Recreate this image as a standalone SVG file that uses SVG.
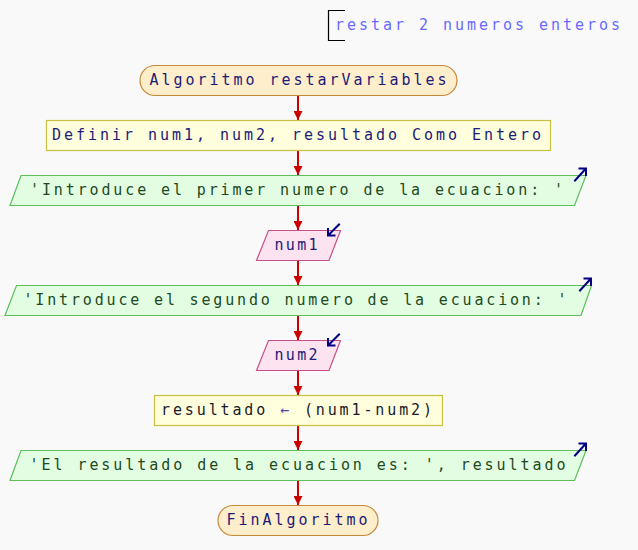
<svg xmlns="http://www.w3.org/2000/svg" width="638" height="550" viewBox="0 0 638 550">
<style>
text{font-family:"DejaVu Sans Mono","Liberation Mono",monospace;font-size:15px;text-anchor:middle}
.term{fill:#ffeecc;stroke:#c8883a;stroke-width:1.2}
.proc{fill:#ffffdd;stroke:#c8c040;stroke-width:1.2}
.out{fill:#e2fde2;stroke:#5cbf5c;stroke-width:1.2}
.in{fill:#fde2f0;stroke:#c8508a;stroke-width:1.2}
.tn{fill:#1c1c78}
.tg{fill:#1e4a1e}
.tk{fill:#1a1a2a}
.flow{stroke:#cc0000;stroke-width:2;fill:none;marker-end:url(#ah)}
.io{stroke:#000080;stroke-width:2;fill:none;stroke-linecap:square}
</style>
<defs>
<marker id="ah" viewBox="0 0 10 10" refX="10" refY="5" markerWidth="4.5" markerHeight="4.5" markerUnits="strokeWidth" orient="auto"><path d="M0,0 L10,5 L0,10 z" fill="#cc0000"/></marker>
</defs>
<rect width="638" height="550" fill="#f9f9f9"/>
<g id="comment">
<path d="M345,10.5 H328.5 V40.5 H345" fill="none" stroke="#000" stroke-width="1.2"/>
<text x="335" y="30" style="text-anchor:start;fill:#6a6aff" textLength="285" lengthAdjust="spacing">restar 2 numeros enteros</text>
</g>
<g id="connectors">
<line class="flow" x1="298" y1="96" x2="298" y2="120"/>
<line class="flow" x1="298" y1="151" x2="298" y2="175"/>
<line class="flow" x1="298" y1="206" x2="298" y2="230"/>
<line class="flow" x1="298" y1="261" x2="298" y2="285"/>
<line class="flow" x1="298" y1="316" x2="298" y2="340"/>
<line class="flow" x1="298" y1="371" x2="298" y2="395"/>
<line class="flow" x1="298" y1="426" x2="298" y2="450"/>
<line class="flow" x1="298" y1="481" x2="298" y2="505"/>
</g>
<g id="start">
<rect class="term" x="140" y="65.5" width="317" height="30" rx="15" ry="15"/>
<text class="tn" x="298" y="85" textLength="297" lengthAdjust="spacing">Algoritmo restarVariables</text>
</g>
<g id="definir">
<rect class="proc" x="46.5" y="120.5" width="504" height="30"/>
<text class="tn" x="296.5" y="140" textLength="489" lengthAdjust="spacing">Definir num1, num2, resultado Como Entero</text>
</g>
<g id="escribir1">
<polygon class="out" points="21,175.5 586,175.5 574.5,205.5 10,205.5"/>
<text class="tg" x="296.5" y="195" textLength="533" lengthAdjust="spacing">'Introduce el primer numero de la ecuacion: '</text>
<path class="io" d="M575,180.5 L585.5,169 M579.5,168.5 H586 V175"/>
</g>
<g id="leer1">
<polygon class="in" points="268.5,230.5 340.5,230.5 329,260.5 256.5,260.5"/>
<text class="tn" x="296" y="250" textLength="43" lengthAdjust="spacing">num1</text>
<path class="io" d="M339,224.5 L328.5,235 M328,229 V235.5 H334.5"/>
</g>
<g id="escribir2">
<polygon class="out" points="16.5,285.5 591.5,285.5 581,315.5 5,315.5"/>
<text class="tg" x="295" y="305" textLength="543" lengthAdjust="spacing">'Introduce el segundo numero de la ecuacion: '</text>
<path class="io" d="M580,290.5 L590.5,279 M584.5,278.5 H591 V285"/>
</g>
<g id="leer2">
<polygon class="in" points="268.5,340.5 340.5,340.5 329,370.5 256.5,370.5"/>
<text class="tn" x="296" y="360" textLength="43" lengthAdjust="spacing">num2</text>
<path class="io" d="M339,334.5 L328.5,345 M328,339 V345.5 H334.5"/>
</g>
<g id="asignar">
<rect class="proc" x="154.5" y="395.5" width="288" height="30"/>
<text class="tk" x="296.5" y="415" textLength="271" lengthAdjust="spacing">resultado <tspan fill="#4848a8">←</tspan> (num1-num2)</text>
</g>
<g id="escribir3">
<polygon class="out" points="21,450.5 586,450.5 574.5,480.5 10,480.5"/>
<text class="tg" x="297.5" y="470" textLength="536" lengthAdjust="spacing">'El resultado de la ecuacion es: ', resultado</text>
<path class="io" d="M575,455.5 L585.5,444 M579.5,443.5 H586 V450"/>
</g>
<g id="fin">
<rect class="term" x="218" y="505.5" width="160" height="30" rx="15" ry="15"/>
<text class="tn" x="297" y="525" textLength="141" lengthAdjust="spacing">FinAlgoritmo</text>
</g>
</svg>
